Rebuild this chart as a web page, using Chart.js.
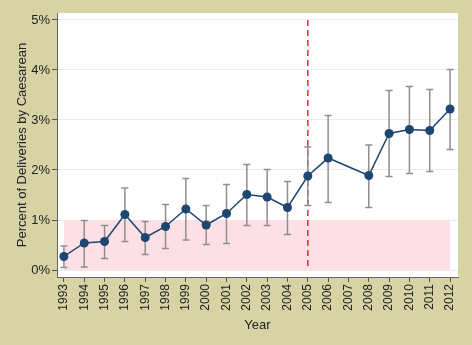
<!DOCTYPE html>
<html>
<head>
<meta charset="utf-8">
<script src="https://cdn.jsdelivr.net/npm/chart.js@4.4.0/dist/chart.umd.min.js"></script>
<style>
  html, body { margin: 0; padding: 0; background: #d8d3a5; }
  #wrap { width: 472px; height: 345px; }
</style>
</head>
<body>
<div id="wrap"><canvas id="mycanvas"></canvas></div>
<script>
var years = [1993, 1994, 1995, 1996, 1997, 1998, 1999, 2000, 2001, 2002,
             2003, 2004, 2005, 2006, 2007, 2008, 2009, 2010, 2011, 2012];
var rate  = [0.27, 0.54, 0.57, 1.11, 0.65, 0.87, 1.22, 0.90, 1.13, 1.51,
             1.46, 1.25, 1.88, 2.24, null, 1.89, 2.73, 2.81, 2.79, 3.22];
var upper = [0.48, 0.99, 0.89, 1.64, 0.97, 1.31, 1.83, 1.29, 1.71, 2.11,
             2.01, 1.77, 2.46, 3.09, null, 2.50, 3.59, 3.67, 3.61, 4.01];
var lower = [0.05, 0.06, 0.23, 0.57, 0.31, 0.43, 0.60, 0.51, 0.53, 0.89,
             0.89, 0.71, 1.29, 1.35, null, 1.25, 1.87, 1.93, 1.97, 2.41];
var yTicks = [0, 1, 2, 3, 4, 5];
var policyYear = 2005;
var band = [0, 1]; // shaded reference range (percent)

var points = [];
for (var i in years) {
	points.push({x: years[i], y: rate[i]});
}

// white plot area, pink band, dashed line and error bars
var extras = {
	id: 'extras',
	beforeDraw: function(chart) {
		var c = chart.ctx, a = chart.chartArea;
		c.save();
		c.fillStyle = '#d8d3a5';
		c.fillRect(0, 0, chart.width, chart.height);
		c.fillStyle = '#ffffff';
		c.fillRect(a.left, a.top, a.right - a.left, a.bottom - a.top);
		c.restore();
	},
	beforeDatasetsDraw: function(chart) {
		var c = chart.ctx, xs = chart.scales.x, ys = chart.scales.y;
		c.save();
		var x0 = xs.getPixelForValue(years[0]);
		var x1 = xs.getPixelForValue(years[years.length - 1]);
		var y0 = ys.getPixelForValue(band[0]);
		var y1 = ys.getPixelForValue(band[1]);
		c.fillStyle = 'rgba(252, 214, 220, 0.75)';
		c.fillRect(x0, y1, x1 - x0, y0 - y1);

		var xp = xs.getPixelForValue(policyYear);
		c.strokeStyle = '#d8312c';
		c.lineWidth = 1.5;
		c.setLineDash([6, 4]);
		c.beginPath();
		c.moveTo(xp, ys.getPixelForValue(yTicks[yTicks.length - 1]));
		c.lineTo(xp, ys.getPixelForValue(0));
		c.stroke();
		c.setLineDash([]);

		c.strokeStyle = '#8f8f8f';
		c.lineWidth = 1.5;
		for (var i in years) {
			if (upper[i] === null) continue;
			var x = xs.getPixelForValue(years[i]);
			var yt = ys.getPixelForValue(upper[i]);
			var yb = ys.getPixelForValue(lower[i]);
			c.beginPath();
			c.moveTo(x, yt); c.lineTo(x, yb);
			c.moveTo(x - 3.5, yt); c.lineTo(x + 3.5, yt);
			c.moveTo(x - 3.5, yb); c.lineTo(x + 3.5, yb);
			c.stroke();
		}
		c.restore();
	}
};

var ctx = document.getElementById('mycanvas');
var chart = new Chart(ctx, {
	type: 'line',
	data: {
		datasets: [{
			data: points,
			borderColor: '#1d4670',
			backgroundColor: '#1d4670',
			borderWidth: 1.5,
			pointRadius: 4.5,
			pointBorderWidth: 0,
			spanGaps: true,
			tension: 0
		}]
	},
	options: {
		responsive: true,
		maintainAspectRatio: false,
		animation: false,
		layout: { padding: { top: 13, right: 14, left: 15, bottom: 12 } },
		plugins: { legend: { display: false }, tooltip: { enabled: false } },
		scales: {
			x: {
				type: 'linear',
				min: 1992.66,
				max: 2012.39,
				afterBuildTicks: function(s) { s.ticks = years.map(function(v) { return {value: v}; }); },
				afterFit: function(s) { s.height = 56; },
				grid: { drawOnChartArea: false, tickLength: 5, tickColor: '#555', color: '#555' },
				border: { color: '#666', width: 1 },
				ticks: {
					minRotation: 90, maxRotation: 90, padding: 2,
					autoSkip: false,
					color: '#222',
					font: { family: 'Liberation Sans, Arial, sans-serif', size: 12 },
					callback: function(v) { return String(v); }
				},
				title: {
					display: true, text: 'Year', color: '#222', padding: { top: 4, bottom: 0 },
					font: { family: 'Liberation Sans, Arial, sans-serif', size: 13 }
				}
			},
			y: {
				min: -0.14,
				max: 5.14,
				afterBuildTicks: function(s) { s.ticks = yTicks.map(function(v) { return {value: v}; }); },
				afterFit: function(s) { s.width = 42; },
				grid: { color: '#e6eef0', tickColor: '#555', tickLength: 5, lineWidth: 1 },
				border: { color: '#666', width: 1 },
				ticks: {
					padding: 2, color: '#222',
					font: { family: 'Liberation Sans, Arial, sans-serif', size: 13 },
					callback: function(v) { return v + '%'; }
				},
				title: {
					display: true, text: 'Percent of Deliveries by Caesarean', color: '#222',
					padding: { top: 0, bottom: 4 },
					font: { family: 'Liberation Sans, Arial, sans-serif', size: 13 }
				}
			}
		}
	},
	plugins: [extras]
});
</script>
</body>
</html>
